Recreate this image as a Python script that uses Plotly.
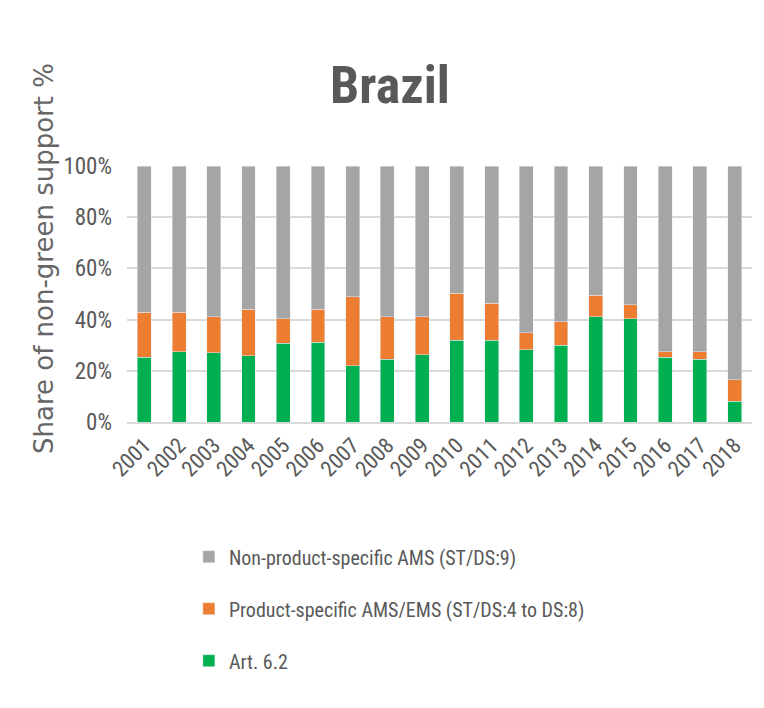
import plotly.graph_objects as go

# Brazil: share of non-green domestic support (%)
years = ["2001", "2002", "2003", "2004", "2005", "2006", "2007", "2008", "2009",
         "2010", "2011", "2012", "2013", "2014", "2015", "2016", "2017", "2018"]
art62 = [25.2, 27.5, 27.0, 25.8, 30.7, 31.2, 22.0, 24.5, 26.3,
         31.9, 31.9, 28.3, 30.0, 41.1, 40.3, 25.2, 24.5, 8.1]
product_specific = [17.6, 15.3, 14.1, 18.2, 9.6, 12.8, 27.0, 16.6, 14.8,
                    18.3, 14.5, 6.5, 9.1, 8.4, 5.6, 2.3, 3.0, 8.5]
non_product = [round(100 - a - p, 1) for a, p in zip(art62, product_specific)]

font_main = "Roboto Condensed, Liberation Sans Narrow, sans-serif"
txt_col = "#595959"

fig = go.Figure()
fig.add_trace(go.Bar(x=years, y=art62, name="Art. 6.2",
                     marker_color="#00b050", legendgroup="art62", legendrank=3))
fig.add_trace(go.Bar(x=years, y=product_specific,
                     name="Product-specific AMS/EMS (ST/DS:4 to DS:8)",
                     marker_color="#ed7d31", legendgroup="ps", legendrank=2))
fig.add_trace(go.Bar(x=years, y=non_product,
                     name="Non-product-specific AMS (ST/DS:9)",
                     marker_color="#a5a5a5", legendgroup="nps", legendrank=1))

fig.update_layout(
    barmode="stack",
    bargap=0.6,
    width=764, height=708,
    margin=dict(l=119, r=20, t=158, b=294),
    paper_bgcolor="white", plot_bgcolor="white",
    font=dict(family=font_main, color=txt_col, size=18),
    title=dict(text="<b>Brazil</b>", x=0.5, xanchor="center", y=0.891, yanchor="middle",
               font=dict(size=52, family=font_main, color=txt_col)),
    showlegend=True,
    legend=dict(x=0.099, y=-0.45, xanchor="left", yanchor="top",
                traceorder="grouped", tracegroupgap=23,
                font=dict(size=20, family=font_main, color=txt_col)),
)

fig.update_yaxes(range=[0, 100], dtick=20, ticksuffix="%",
                 showgrid=True, gridcolor="#d9d9d9", gridwidth=2,
                 zeroline=False, showline=False, ticklabelstandoff=14,
                 tickfont=dict(size=23, color=txt_col), automargin=False)
fig.update_xaxes(tickangle=-45, showline=True, linecolor="#d9d9d9", linewidth=2,
                 tickfont=dict(size=22, color=txt_col), automargin=False)

fig.add_annotation(text="Share of non-green support %", textangle=-90,
                   xref="paper", yref="paper", x=-0.133, y=0.64,
                   xanchor="center", yanchor="middle", showarrow=False,
                   font=dict(family="DejaVu Sans, Verdana, sans-serif", size=26, color="#666666"))

fig.write_html("out.html")
